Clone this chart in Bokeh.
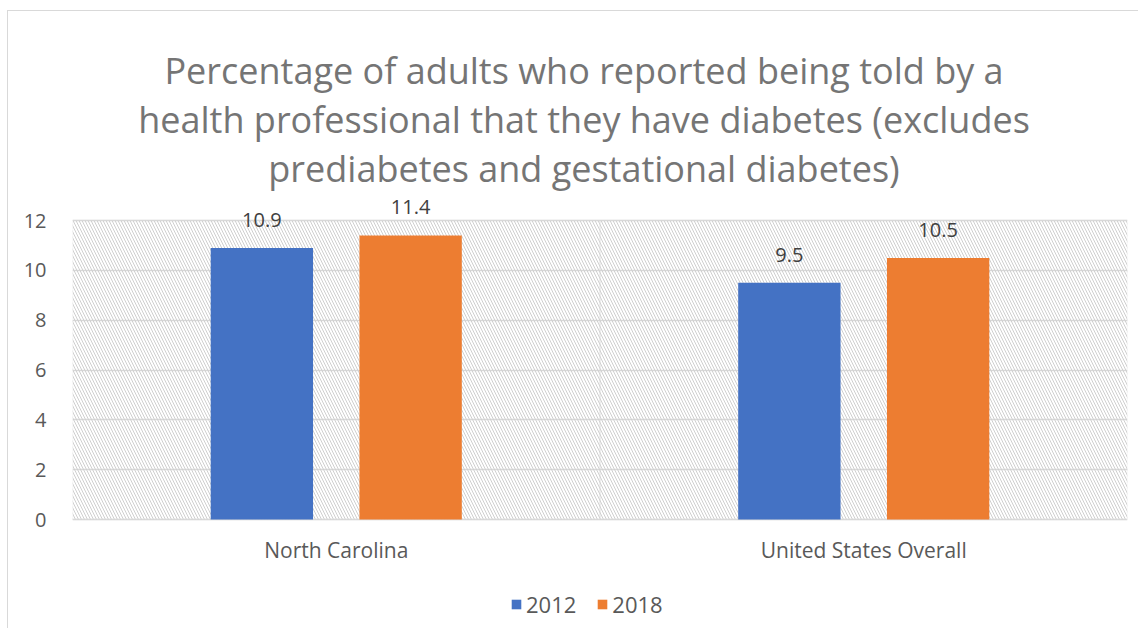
from bokeh.plotting import figure
from bokeh.models import (ColumnDataSource, FixedTicker, BoxAnnotation, Range1d,
                          Label, LabelSet, Legend, LegendItem)
from bokeh.transform import dodge
from bokeh.core.properties import value
from bokeh.embed import file_html
from bokeh.resources import INLINE

categories = ["North Carolina", "United States Overall"]
series_names = ["2012", "2018"]
values_2012 = [10.9, 9.5]
values_2018 = [11.4, 10.5]
y_ticks = [0, 2, 4, 6, 8, 10, 12]
title_lines = ["Percentage of adults who reported being told by a",
               "health professional that they have diabetes (excludes",
               "prediabetes and gestational diabetes)"]

colors = ["#4472C4", "#ED7D31"]
FONT = "Open Sans"
GRAY = "#595959"
TITLE_GRAY = "#757575"
GRID = "#d9d9d9"

W, H = 1131, 618
TOP_PX, BOT_PX = 209, 508          # canvas pixel rows of the axis top (12) and 0
y_max = max(y_ticks)
PX = (BOT_PX - TOP_PX) / y_max
y_range = Range1d(-(H - BOT_PX) / PX, y_max + TOP_PX / PX)

xpos = [i + 0.5 for i in range(len(categories))]
src = ColumnDataSource(dict(
    x=xpos, y0=[0] * len(categories), cat=categories,
    v2012=values_2012, v2018=values_2018,
    l2012=[f"{v:.1f}" for v in values_2012],
    l2018=[f"{v:.1f}" for v in values_2018],
))

p = figure(width=W, height=H, output_backend="svg", toolbar_location=None,
           x_range=(0, len(categories)), y_range=y_range,
           min_border_left=64, min_border_right=12, min_border_top=0, min_border_bottom=0)
p.margin = (10, 0, 0, 7)
p.styles = {"border-left": "1px solid #d9d9d9", "border-top": "1px solid #d9d9d9"}

p.title = None
p.outline_line_color = None
p.xgrid.visible = False
p.xaxis.visible = False

# hatched plot area, one box per category
for i in range(len(categories)):
    p.add_layout(BoxAnnotation(left=i, right=i + 1, bottom=0, top=y_max,
                               fill_alpha=0, line_color=GRID, line_width=1.5,
                               hatch_pattern="\\", hatch_color="#cfcfcf",
                               hatch_scale=6, hatch_weight=1, level="underlay"))

p.ygrid.ticker = FixedTicker(ticks=y_ticks)
p.ygrid.grid_line_color = GRID
p.ygrid.grid_line_width = 1.5

off = 0.141
w = 0.194
r1 = p.vbar(x=dodge("x", -off), top="v2012", width=w, source=src,
            fill_color=colors[0], line_color=None)
r2 = p.vbar(x=dodge("x", off), top="v2018", width=w, source=src,
            fill_color=colors[1], line_color=None)

for col, lab, o in [("v2012", "l2012", -off), ("v2018", "l2018", off)]:
    p.add_layout(LabelSet(x=dodge("x", o), y=col, text=lab, source=src,
                          text_align="center", text_baseline="bottom", y_offset=21,
                          text_font=value(FONT), text_font_size="20px",
                          text_color="#404040"))

# category labels
p.add_layout(LabelSet(x="x", y="y0", text="cat", source=src, text_align="center",
                      text_baseline="middle", y_offset=-30, text_font=value(FONT),
                      text_font_size="21px", text_color=GRAY))

# title lines
for line, dy in zip(title_lines, [150, 101, 52]):
    p.add_layout(Label(x=len(categories) / 2, y=y_max, text=line, x_offset=-16,
                       y_offset=dy, text_align="center", text_baseline="middle",
                       text_font=FONT, text_font_size="36px", text_color=TITLE_GRAY))

p.yaxis.ticker = FixedTicker(ticks=y_ticks)
p.yaxis.axis_line_color = None
p.yaxis.major_tick_line_color = None
p.yaxis.minor_tick_line_color = None
p.yaxis.major_label_text_font = FONT
p.yaxis.major_label_text_font_size = "20px"
p.yaxis.major_label_text_color = GRAY
p.yaxis.major_label_standoff = 20

legend = Legend(items=[LegendItem(label=series_names[0], renderers=[r1]),
                       LegendItem(label=series_names[1], renderers=[r2])],
                orientation="horizontal", location=(438, 10),
                label_text_font=FONT, label_text_font_size="22px", label_text_color=GRAY,
                glyph_width=12, glyph_height=12, spacing=20, label_standoff=4,
                border_line_color=None, background_fill_alpha=0, padding=2, margin=0)
p.add_layout(legend, "center")

open("out.html", "w").write(file_html(p, INLINE))
